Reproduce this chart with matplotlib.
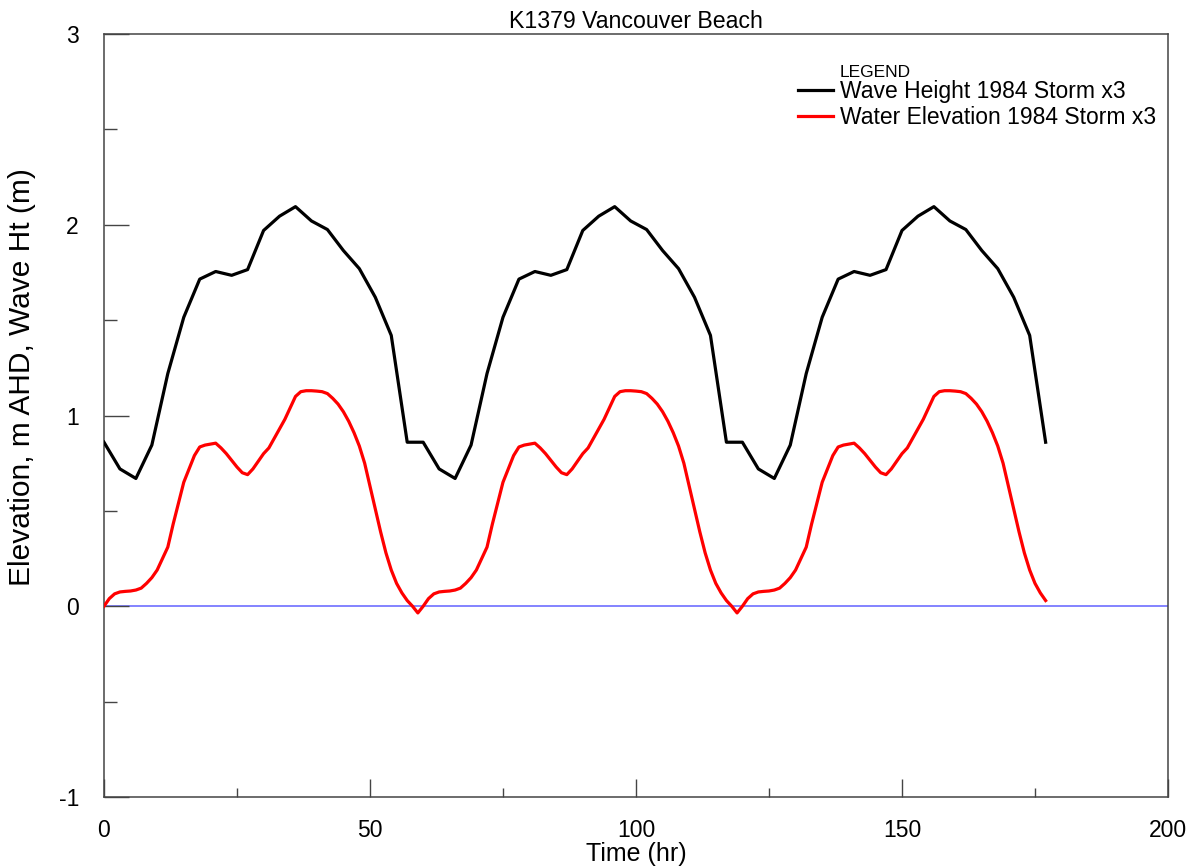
import numpy as np
import matplotlib.pyplot as plt
from matplotlib.ticker import MultipleLocator

plt.rcParams['font.family'] = ['Liberation Sans', 'DejaVu Sans']
plt.rcParams['axes.unicode_minus'] = False

# 1984 storm, one 60 h event; the run repeats it three times
wave_t = [0, 3, 6, 9, 12, 15, 18, 21, 24, 27, 30, 33, 36, 39, 42, 45, 48, 51, 54, 57]
wave_storm = [0.86, 0.72, 0.67, 0.845, 1.22, 1.515, 1.715, 1.755, 1.735, 1.765,
              1.97, 2.045, 2.095, 2.02, 1.975, 1.865, 1.77, 1.62, 1.42, 0.86]

elev_t = list(range(60))
elev_storm = [0.00, 0.04, 0.065, 0.075, 0.078, 0.08, 0.085, 0.095, 0.12, 0.15,
              0.19, 0.25, 0.31, 0.43, 0.54, 0.65, 0.72, 0.79, 0.835, 0.845,
              0.85, 0.855, 0.83, 0.80, 0.765, 0.73, 0.70, 0.69, 0.72, 0.76,
              0.80, 0.83, 0.88, 0.93, 0.98, 1.04, 1.10, 1.125, 1.13, 1.13,
              1.128, 1.125, 1.115, 1.09, 1.06, 1.02, 0.97, 0.91, 0.84, 0.75,
              0.63, 0.51, 0.39, 0.28, 0.19, 0.12, 0.07, 0.03, 0.00, -0.035]

n_storms = 3
storm_len = 60

wave_time = np.concatenate([np.array(wave_t) + k * storm_len for k in range(n_storms)])
wave_height = np.concatenate([wave_storm] * n_storms)
elev_time = np.concatenate([np.array(elev_t) + k * storm_len for k in range(n_storms)])
water_elev = np.concatenate([elev_storm] * n_storms)
# last record of the run is at t = 177 h
keep = elev_time <= 177
elev_time, water_elev = elev_time[keep], water_elev[keep]

fig = plt.figure(figsize=(11.95, 8.68), dpi=100)
ax = fig.add_axes([0.087, 0.0818, 0.8904, 0.879])

ax.axhline(0, color='#6e6eff', lw=1.2, zorder=1)
ax.plot(wave_time, wave_height, color='black', lw=2.3,
        label='Wave Height 1984 Storm x3', zorder=3)
ax.plot(elev_time, water_elev, color='#ff0000', lw=2.3,
        label='Water Elevation 1984 Storm x3', zorder=3)

ax.set_xlim(0, 200)
ax.set_ylim(-1, 3)
ax.xaxis.set_major_locator(MultipleLocator(50))
ax.xaxis.set_minor_locator(MultipleLocator(25))
ax.yaxis.set_major_locator(MultipleLocator(1))
ax.yaxis.set_minor_locator(MultipleLocator(0.5))

ax.tick_params(axis='both', which='both', direction='in', color='#444444',
               width=1.0, labelsize=16.5, top=False, right=False)
ax.tick_params(axis='x', which='major', length=13, pad=16)
ax.tick_params(axis='x', which='minor', length=6.5)
ax.tick_params(axis='y', which='major', length=18, pad=18)
ax.tick_params(axis='y', which='minor', length=9)

for side in ax.spines.values():
    side.set_color('#444444')
    side.set_linewidth(1.1)

ax.set_title('K1379 Vancouver Beach', fontsize=16.7, pad=4)
ax.set_xlabel('Time (hr)', fontsize=18, labelpad=0)
ax.set_ylabel('Elevation, m AHD, Wave Ht (m)', fontsize=21.5)
ax.yaxis.set_label_coords(-0.0635, 0.55)

ax.legend(loc='upper left', bbox_to_anchor=(0.652, 0.9397), frameon=False,
          fontsize=16.5, handlelength=1.55, handletextpad=0.3,
          labelspacing=0.15, borderpad=0, borderaxespad=0)
ax.text(0.6915, 0.9436, 'LEGEND', transform=ax.transAxes, fontsize=12.5,
        va='baseline', ha='left')

fig.savefig('out.png', dpi=100)
